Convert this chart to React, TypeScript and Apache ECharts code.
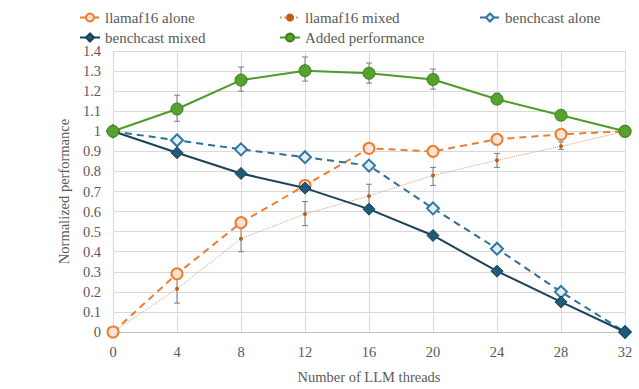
import React, { useEffect, useRef } from "react";
import * as echarts from "echarts";

const threads = [0, 4, 8, 12, 16, 20, 24, 28, 32];
const llamaAlone = [0, 0.29, 0.545, 0.73, 0.915, 0.9, 0.96, 0.985, 1];
const llamaMixed = [0, 0.215, 0.465, 0.588, 0.678, 0.78, 0.856, 0.925, 1];
const llamaMixedLow = [0, 0.144, 0.4, 0.53, 0.63, 0.73, 0.82, 0.91, 1];
const llamaMixedHigh = [0, 0.29, 0.53, 0.65, 0.736, 0.82, 0.89, 0.947, 1];
const benchAlone = [1, 0.955, 0.91, 0.871, 0.829, 0.616, 0.415, 0.2, 0];
const benchMixed = [1, 0.893, 0.79, 0.717, 0.612, 0.481, 0.303, 0.15, 0];
const added = [1, 1.111, 1.255, 1.302, 1.289, 1.258, 1.16, 1.08, 1];
const addedLow = [1, 1.05, 1.2, 1.25, 1.24, 1.21, 1.14, 1.06, 1];
const addedHigh = [1, 1.18, 1.32, 1.37, 1.34, 1.31, 1.19, 1.1, 1];

const NAMES = ["llamaf16 alone", "llamaf16 mixed", "benchcast alone", "benchcast mixed", "Added performance"];

const pairs = (ys: number[]) => threads.map((x, i) => [x, ys[i]]);
const errData = (lo: number[], hi: number[]) =>
  threads.map((x, i) => [x, lo[i], hi[i]]).filter((d) => d[2] - d[1] > 0.001);

const errorSeries = (data: number[][]) => ({
  type: "custom",
  silent: true,
  z: 1,
  renderItem: (params: any, api: any) => {
    const x = api.value(0);
    const lo = api.coord([x, api.value(1)]);
    const hi = api.coord([x, api.value(2)]);
    const w = 3;
    const style = { stroke: "#7f7f7f", lineWidth: 1 };
    return {
      type: "group",
      children: [
        { type: "line", shape: { x1: lo[0], y1: lo[1], x2: hi[0], y2: hi[1] }, style },
        { type: "line", shape: { x1: lo[0] - w, y1: lo[1], x2: lo[0] + w, y2: lo[1] }, style },
        { type: "line", shape: { x1: hi[0] - w, y1: hi[1], x2: hi[0] + w, y2: hi[1] }, style },
      ],
    };
  },
  data,
});

export default function App() {
  const ref = useRef<HTMLDivElement>(null);
  useEffect(() => {
    const chart = echarts.init(ref.current!, null, { renderer: "svg" });
    const font = "'Liberation Serif', 'DejaVu Serif', serif";
    const legendPos = [
      { left: 74, top: 5 },
      { left: 274, top: 5 },
      { left: 474, top: 5 },
      { left: 74, top: 25 },
      { left: 274, top: 25 },
    ];
    chart.setOption({
      animation: false,
      textStyle: { fontFamily: font },
      legend: NAMES.map((n, i) => ({
        data: [n],
        left: legendPos[i].left,
        top: legendPos[i].top,
        itemWidth: 20,
        itemHeight: 10,
        textStyle: { fontFamily: font, fontSize: 15, color: "#595959" },
        selectedMode: false,
      })),
      grid: { left: 113, right: 14, top: 51, bottom: 47 },
      xAxis: {
        type: "value",
        min: 0,
        max: 32,
        interval: 4,
        name: "Number of LLM threads",
        nameLocation: "middle",
        nameGap: 37,
        nameTextStyle: { fontFamily: font, fontSize: 14.5, color: "#595959" },
        axisLine: { show: true, lineStyle: { color: "#bfbfbf" } },
        axisTick: { show: false },
        axisLabel: { fontFamily: font, fontSize: 14.5, color: "#595959", margin: 12 },
        splitLine: { show: true, lineStyle: { color: "#d9d9d9" } },
      },
      yAxis: {
        type: "value",
        min: 0,
        max: 1.4,
        interval: 0.1,
        name: "Normalized performance",
        nameLocation: "middle",
        nameGap: 40,
        nameTextStyle: { fontFamily: font, fontSize: 14.5, color: "#595959" },
        axisLine: { show: false },
        axisTick: { show: false },
        axisLabel: { fontFamily: font, fontSize: 14.5, color: "#595959", margin: 12 },
        splitLine: { show: true, lineStyle: { color: "#d9d9d9" } },
      },
      series: [
        errorSeries(errData(llamaMixedLow, llamaMixedHigh)),
        errorSeries(errData(addedLow, addedHigh)),
        {
          name: "llamaf16 mixed",
          type: "line",
          data: pairs(llamaMixed),
          z: 2,
          symbol: "circle",
          symbolSize: 4,
          itemStyle: { color: "#c55a11" },
          lineStyle: { color: "#d9a07a", width: 1, type: "dotted" },
        },
        {
          name: "llamaf16 alone",
          type: "line",
          data: pairs(llamaAlone),
          z: 3,
          symbol: "circle",
          symbolSize: 11,
          itemStyle: { color: "#fbe3d4", borderColor: "#ed7d31", borderWidth: 2 },
          lineStyle: { color: "#ed7d31", width: 2, type: [7, 5] },
        },
        {
          name: "benchcast alone",
          type: "line",
          data: pairs(benchAlone),
          z: 3,
          symbol: "diamond",
          symbolSize: 12,
          itemStyle: { color: "#deeef8", borderColor: "#2e75a0", borderWidth: 2 },
          lineStyle: { color: "#2e6f96", width: 2, type: [7, 5] },
        },
        {
          name: "benchcast mixed",
          type: "line",
          data: pairs(benchMixed),
          z: 4,
          symbol: "diamond",
          symbolSize: 12,
          itemStyle: { color: "#1f5a78", borderColor: "#163f54", borderWidth: 1 },
          lineStyle: { color: "#1a4259", width: 2 },
        },
        {
          name: "Added performance",
          type: "line",
          data: pairs(added),
          z: 5,
          symbol: "circle",
          symbolSize: 12,
          itemStyle: { color: "#56a22e", borderColor: "#3b7d1d", borderWidth: 1 },
          lineStyle: { color: "#4e9a2a", width: 2 },
        },
      ],
    });
    return () => chart.dispose();
  }, []);
  return <div ref={ref} style={{ width: 639, height: 389, position: "absolute", left: 0, top: 0 }} />;
}
